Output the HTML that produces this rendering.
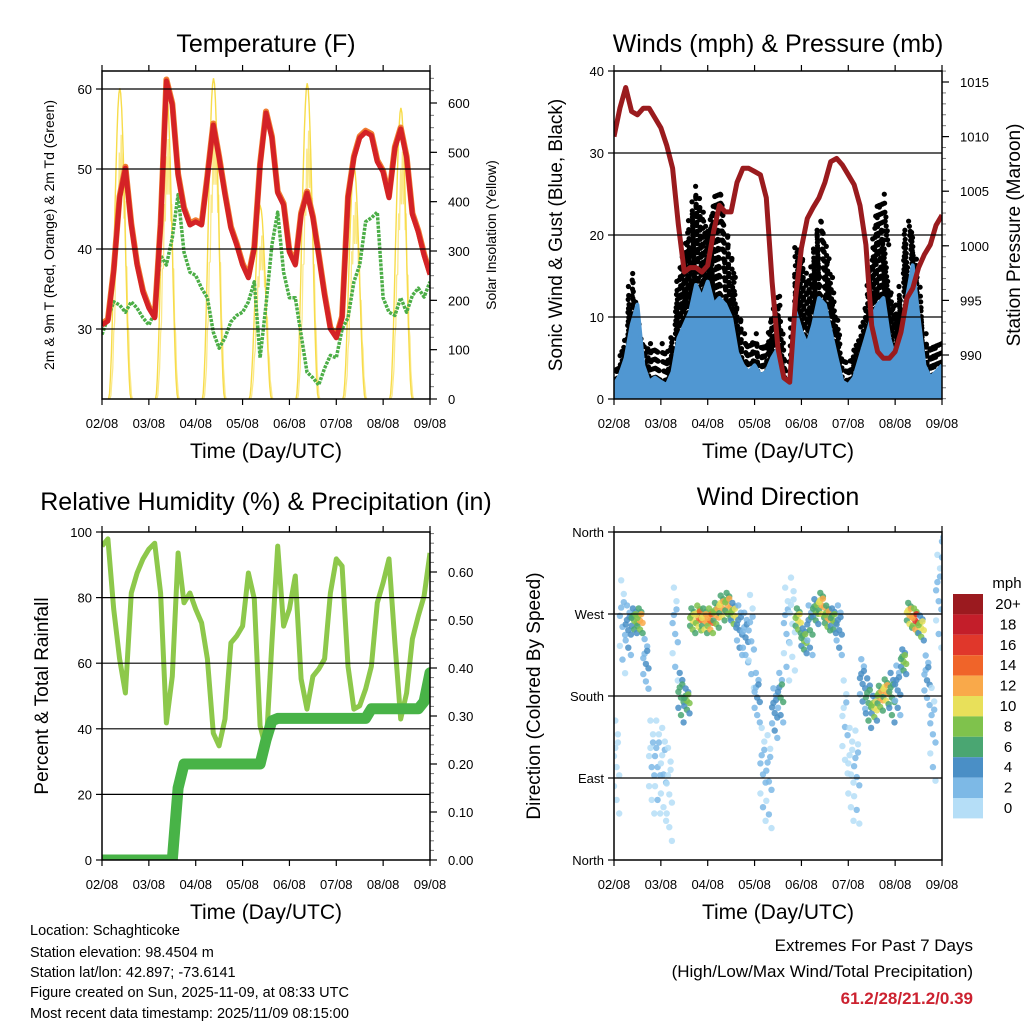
<!DOCTYPE html>
<html><head><meta charset="utf-8"><style>
html,body{margin:0;padding:0;background:#fff}
svg{display:block;font-family:"Liberation Sans",sans-serif}
</style></head><body>
<svg id="fig" width="1024" height="1024" viewBox="0 0 1024 1024">
<defs>
<clipPath id="c1"><rect x="102" y="71" width="328" height="328"/></clipPath>
<clipPath id="c2"><rect x="614" y="71" width="328" height="328"/></clipPath>
<clipPath id="c3"><rect x="102" y="532" width="328" height="328"/></clipPath>
<clipPath id="c4"><rect x="614" y="532" width="328" height="328"/></clipPath>
</defs>
<text x="266" y="52" font-size="25" text-anchor="middle">Temperature (F)</text>
<text x="778" y="52" font-size="25" text-anchor="middle">Winds (mph) &amp; Pressure (mb)</text>
<text x="266" y="510" font-size="25" text-anchor="middle">Relative Humidity (%) &amp; Precipitation (in)</text>
<text x="778" y="505" font-size="25" text-anchor="middle">Wind Direction</text>
<text x="266" y="458" font-size="21" text-anchor="middle">Time (Day/UTC)</text>
<text x="778" y="458" font-size="21" text-anchor="middle">Time (Day/UTC)</text>
<text x="266" y="919" font-size="21" text-anchor="middle">Time (Day/UTC)</text>
<text x="778" y="919" font-size="21" text-anchor="middle">Time (Day/UTC)</text>
<text transform="translate(54,235) rotate(-90)" font-size="14" text-anchor="middle">2m &amp; 9m T (Red, Orange) &amp; 2m Td (Green)</text>
<text transform="translate(496,235) rotate(-90)" font-size="14" text-anchor="middle">Solar Insolation (Yellow)</text>
<text transform="translate(562,235) rotate(-90)" font-size="19" text-anchor="middle">Sonic Wind &amp; Gust (Blue, Black)</text>
<text transform="translate(1020,235) rotate(-90)" font-size="19" text-anchor="middle">Station Pressure (Maroon)</text>
<text transform="translate(48,696) rotate(-90)" font-size="19" text-anchor="middle">Percent &amp; Total Rainfall</text>
<text transform="translate(540,696) rotate(-90)" font-size="19" text-anchor="middle">Direction (Colored By Speed)</text>
<g font-size="14.5">
<text x="30" y="935">Location: Schaghticoke</text>
<text x="30" y="957">Station elevation: 98.4504 m</text>
<text x="30" y="977">Station lat/lon: 42.897; -73.6141</text>
<text x="30" y="997">Figure created on Sun, 2025-11-09, at 08:33 UTC</text>
<text x="30" y="1018">Most recent data timestamp: 2025/11/09 08:15:00</text>
</g>
<text x="973" y="951" font-size="17" text-anchor="end">Extremes For Past 7 Days</text>
<text x="973" y="977" font-size="17" text-anchor="end">(High/Low/Max Wind/Total Precipitation)</text>
<text x="973" y="1004" font-size="17" font-weight="bold" fill="#cc2230" text-anchor="end">61.2/28/21.2/0.39</text>
<text x="1007" y="588" font-size="15" text-anchor="middle">mph</text>
</svg>
<script>
// ---- data (3-hourly samples, index i -> day i/8) ----
const dayLabels = ["02/08","03/08","04/08","05/08","06/08","07/08","08/08","09/08"];
const temp2m = [30.5,31,37.2,46.4,50.1,43,38,34.6,32.6,31.4,43,61,58,49.2,45,43,43.4,43,49,55.5,51.4,46.8,42.6,40.5,38,36.4,40.1,50.5,57,53.9,47,45.5,39.6,38,44.3,47,43.9,39.2,34.2,30,28.9,31.4,46.4,51.4,53.9,54.6,54.2,50.9,49.6,46.4,52.6,55,51.4,44.3,42.1,39.2,36.8];
const dewpt = [29.3,31.4,33.4,33,32.1,33.4,32.6,31.4,30.5,32.1,39.2,38,41.4,46.8,39.6,37.1,36.7,35.1,33.9,29.6,27.6,28.9,30.9,31.7,32.1,33.4,35.9,26.4,33,40.5,44.6,37.1,33.9,33.9,29.3,24.6,23.9,23,25.1,26.7,26.4,30,31.4,35.9,38,43.4,43.9,44.6,33.9,32.1,31.7,33.9,32.1,34.2,35.1,34,35.9];
const solarPeak = [630,620,650,390,640,470,590];
const windSpeed = [1.7,2.9,5,9,11.5,4.1,2.1,2.6,2.1,1.7,3.3,7.4,9,10.6,13.9,12.3,14.3,11.5,12.3,11.5,9.9,5.7,4.1,3.3,4.1,2.9,3.3,5,6.2,2.6,1.7,10.6,8.2,6.6,9,12.3,11.5,8.2,5,2.1,1.7,2.6,5,7.4,9.9,11.5,12.3,7.4,5,8.2,12.3,16.3,9.9,4.1,2.6,3.3,4.1];
const windGust = [3,5,8,16,10,6,7,6,7,5,8,15,18,22,26,23,20,24,26,22,17,12,8,7,8,6,7,10,13,6,4,19,18,14,17,22,20,15,10,5,4,6,8,12,17,24,25,15,10,14,22,20,14,8,6,7,7];
const pressure = [1010,1012.6,1014.5,1012.3,1012,1012.6,1012.6,1011.7,1010.8,1009.2,1007.1,1001.9,997.6,998,998,997.6,998.2,1001.3,1003.7,1003.1,1003.1,1005.8,1007.1,1007.1,1006.8,1006.5,1004.4,996.7,990.6,987.9,987.5,995.2,999.8,1002.5,1003.5,1004.4,1005.8,1007.7,1008,1007.4,1006.5,1005.6,1003.7,1000.1,992.7,990.3,989.7,989.7,990.3,992.1,995.2,996.1,998,999.2,1000.1,1001.9,1002.8];
const relHum = [95.7,97.9,76.5,61.3,50.9,81.4,87.5,91.8,94.8,96.6,81.4,41.8,56,93.6,78.4,81.4,76.5,72.3,61.3,38.7,34.8,43,66.2,68.3,71.3,87.5,79.6,40.9,33.8,66.2,95.7,71.3,76.5,86.6,55.2,46,56,58.2,61.3,81.4,91.8,89.6,59.1,46,47,52.1,59.1,78.4,84.5,91.8,66.2,43,50.9,67.4,74.4,80.5,93.6];
const precip = [0,0,0,0,0,0,0,0,0,0,0,0,0,0.15,0.2,0.2,0.2,0.2,0.2,0.2,0.2,0.2,0.2,0.2,0.2,0.2,0.2,0.2,0.25,0.29,0.295,0.295,0.295,0.295,0.295,0.295,0.295,0.295,0.295,0.295,0.295,0.295,0.295,0.295,0.295,0.295,0.315,0.315,0.315,0.315,0.315,0.315,0.315,0.315,0.315,0.33,0.39];
const windDir = [111,265,257,265,265,220,111,111,103,81,257,183,177,265,268,265,265,271,279,282,271,257,249,249,183,103,95,166,183,257,268,265,243,257,275,282,268,265,257,155,103,100,198,177,169,180,187,183,191,220,271,265,257,202,147,293,348];
const cbLabels = ["20+","18","16","14","12","10","8","6","4","2","0"];
const cbColors = ["#9b1a1f","#c31e2a","#e0372b","#f06429","#f9a94a","#e8e05a","#7fc24c","#4aa672","#4a8fc6","#7db9e6","#b5def7"];

// ---- scales ----
const NS="http://www.w3.org/2000/svg";
const svg=document.getElementById('fig');
const DAY=328/7;
const xL=d=>102+d*DAY, xR=d=>614+d*DAY;
const yT=v=>89+(60-v)*8, yS=v=>399-v*296/600;
const yW=v=>399-v*8.2, yP=p=>82+(1015-p)*10.92;
const yH=v=>860-v*3.28, yPr=v=>860-v*480;
const yD=g=>860-g*328/360;
function mk(tag,attrs,name,parent){
  const el=document.createElementNS(NS,tag);
  for(const k in attrs) el.setAttribute(k,attrs[k]);
  
  
  (parent||svg).appendChild(el);
  return el;
}
function group(name,clip){return mk('g',clip?{'clip-path':'url(#'+clip+')'}:{},name);}
function pts(arr,xf,yf){return arr.map((v,i)=>xf(i/8).toFixed(1)+','+yf(v).toFixed(1)).join(' ');}

function panel(x0,y0,prefix,gridVals,yfL,lTicks,lLabels,yfRight,rTicks,rLabels,rMinor){
  const g=group(prefix+'-axes');
  gridVals.forEach(v=>mk('line',{x1:x0,x2:x0+328,y1:yfL(v),y2:yfL(v),stroke:'#000','stroke-width':1.2},prefix+'-gridline',g));
  for(let d=0;d<=7;d++){
    const x=x0+d*DAY;
    mk('line',{x1:x,x2:x,y1:y0+328,y2:y0+334,stroke:'#000','stroke-width':1.2},prefix+'-x-tick',g);
    mk('line',{x1:x,x2:x,y1:y0,y2:y0-6,stroke:'#000','stroke-width':1.2},prefix+'-x-tick-top',g);
    const t=mk('text',{x:x,y:y0+357,'font-size':13,'text-anchor':'middle'},prefix+'-x-tick-label',g);
    t.textContent=dayLabels[d];
  }
  lTicks.forEach((v,i)=>{
    const y=yfL(v);
    mk('line',{x1:x0-6,x2:x0,y1:y,y2:y,stroke:'#000','stroke-width':1.2},prefix+'-y-tick',g);
    const t=mk('text',{x:x0-10,y:y+5,'font-size':13,'text-anchor':'end'},prefix+'-y-tick-label',g);
    t.textContent=lLabels[i];
  });
  if(yfRight){
    rMinor.forEach(v=>{const y=yfRight(v);if(y>=y0&&y<=y0+328)mk('line',{x1:x0+328,x2:x0+332,y1:y,y2:y,stroke:'#777','stroke-width':1},prefix+'-right-minor-tick',g);});
    rTicks.forEach((v,i)=>{
      const y=yfRight(v);
      mk('line',{x1:x0+328,x2:x0+335,y1:y,y2:y,stroke:'#000','stroke-width':1.2},prefix+'-right-tick',g);
      const t=mk('text',{x:x0+346,y:y+5,'font-size':13},prefix+'-right-tick-label',g);
      t.textContent=rLabels[i];
    });
  }
  mk('rect',{x:x0,y:y0,width:328,height:328,fill:'none',stroke:'#000','stroke-width':1.5},prefix+'-frame',g);
}

// Temperature panel
const gT=group('temperature-plot','c1');
solarPeak.forEach((pk,d)=>{
  const c=d+0.38;let s1=[],s2=[];
  for(let k=-12;k<=12;k++){const dd=c+k*0.02;const f=Math.pow(Math.cos(k/12*Math.PI/2),2);s1.push(xL(dd).toFixed(1)+','+yS(pk*f).toFixed(1));s2.push(xL(dd+0.03).toFixed(1)+','+yS(pk*0.85*f*(k%2?0.8:1)).toFixed(1));}
  mk('polyline',{points:s2.join(' '),fill:'none',stroke:'#fbe98a','stroke-width':1.3},'solar-insolation-line',gT);
  mk('polyline',{points:s1.join(' '),fill:'none',stroke:'#f7dc4a','stroke-width':1.4},'solar-insolation-line',gT);
});
mk('polyline',{points:pts(dewpt,xL,yT),fill:'none',stroke:'#4cae47','stroke-width':3.5,'stroke-dasharray':'3 1.2','stroke-linejoin':'round'},'dewpoint-2m-line',gT);
mk('polyline',{points:pts(temp2m,xL,v=>yT(v)-1.5),fill:'none',stroke:'#f07c30','stroke-width':6,'stroke-linejoin':'round'},'temp-9m-line',gT);
mk('polyline',{points:pts(temp2m,xL,yT),fill:'none',stroke:'#d42226','stroke-width':5,'stroke-linejoin':'round'},'temp-2m-line',gT);
panel(102,71,'temp',[30,40,50,60],yT,[30,40,50,60],['30','40','50','60'],yS,[0,100,200,300,400,500,600],['0','100','200','300','400','500','600'],Array.from({length:27},(_,i)=>i*25));

// Winds panel
const gW=group('winds-plot','c2');
for(let i=0;i<windGust.length-1;i++){
  for(let s=0;s<5;s++){
    const f=s/5, d=(i+f)/8;
    const g=windGust[i]+(windGust[i+1]-windGust[i])*f;
    const b=windSpeed[i]+(windSpeed[i+1]-windSpeed[i])*f;
    for(let v=b*0.6;v<=g;v+=1.1){
      mk('circle',{cx:(xR(d)+((v*7)%4)-2).toFixed(1),cy:yW(v).toFixed(1),r:2.6,fill:'#000'},'gust-point',gW);
    }
  }
}
const blueArea=windSpeed.map((v,i)=>xR(i/8).toFixed(1)+','+yW(v).toFixed(1)).concat([xR(7).toFixed(1)+','+yW(0),xR(0).toFixed(1)+','+yW(0)]).join(' ');
mk('polygon',{points:blueArea,fill:'#5097d2'},'sonic-wind-band',gW);
mk('polyline',{points:pts(windSpeed,xR,yW),fill:'none',stroke:'#5097d2','stroke-width':4,'stroke-linejoin':'round'},'sonic-wind-line',gW);
mk('polyline',{points:pts(pressure,xR,yP),fill:'none',stroke:'#9a1b1e','stroke-width':5,'stroke-linejoin':'round'},'pressure-line',gW);
const pMinor=[];for(let p=986;p<=1016;p++)pMinor.push(p);
panel(614,71,'winds',[10,20,30],yW,[0,10,20,30,40],['0','10','20','30','40'],yP,[990,995,1000,1005,1010,1015],['990','995','1000','1005','1010','1015'],pMinor);

// RH panel
const gH=group('humidity-plot','c3');
mk('polyline',{points:pts(relHum,xL,yH),fill:'none',stroke:'#8dc84b','stroke-width':5,'stroke-linejoin':'round'},'relative-humidity-line',gH);
mk('polyline',{points:pts(precip,xL,yPr),fill:'none',stroke:'#48b347','stroke-width':11,'stroke-linejoin':'round','stroke-linecap':'round'},'precipitation-line',gH);
const prMinor=[];for(let k=0;k<=34;k++)prMinor.push(k*0.02);
panel(102,532,'rh',[20,40,60,80],yH,[0,20,40,60,80,100],['0','20','40','60','80','100'],yPr,[0,0.1,0.2,0.3,0.4,0.5,0.6],['0.00','0.10','0.20','0.30','0.40','0.50','0.60'],prMinor);

// Wind direction panel
function speedColor(s){const idx=Math.max(0,Math.min(10,Math.floor(s/2)));return cbColors[10-idx];}
const gD=group('direction-plot','c4');
const jit=[-10,4,-3,9,-6,1,14,-15,6,-20];
windDir.forEach((deg,i)=>{
  const spread=windSpeed[i]<4?3:(windSpeed[i]<8?1.6:0.8);
  for(let k=0;k<10;k++){
    const sp=windSpeed[i]*(k%3===0?0.6:(k%2?0.85:1.05));
    const g=deg+jit[k]*spread;
    mk('circle',{cx:(xR(i/8)+(k%5)*1.3).toFixed(1),cy:yD(g).toFixed(1),r:3.2,fill:speedColor(sp),'fill-opacity':0.85},'direction-point',gD);
  }
});
panel(614,532,'dir',[90,180,270],yD,[0,90,180,270,360],['North','East','South','West','North'],null);

// colorbar
const gC=group('colorbar');
cbLabels.forEach((l,i)=>{
  mk('rect',{x:953,y:594+i*20.4,width:30,height:20.4,fill:cbColors[i]},'colorbar-swatch',gC);
  const t=mk('text',{x:1008,y:609+i*20.4,'font-size':15,'text-anchor':'middle'},'colorbar-label',gC);
  t.textContent=l;
});
</script>
</body></html>
